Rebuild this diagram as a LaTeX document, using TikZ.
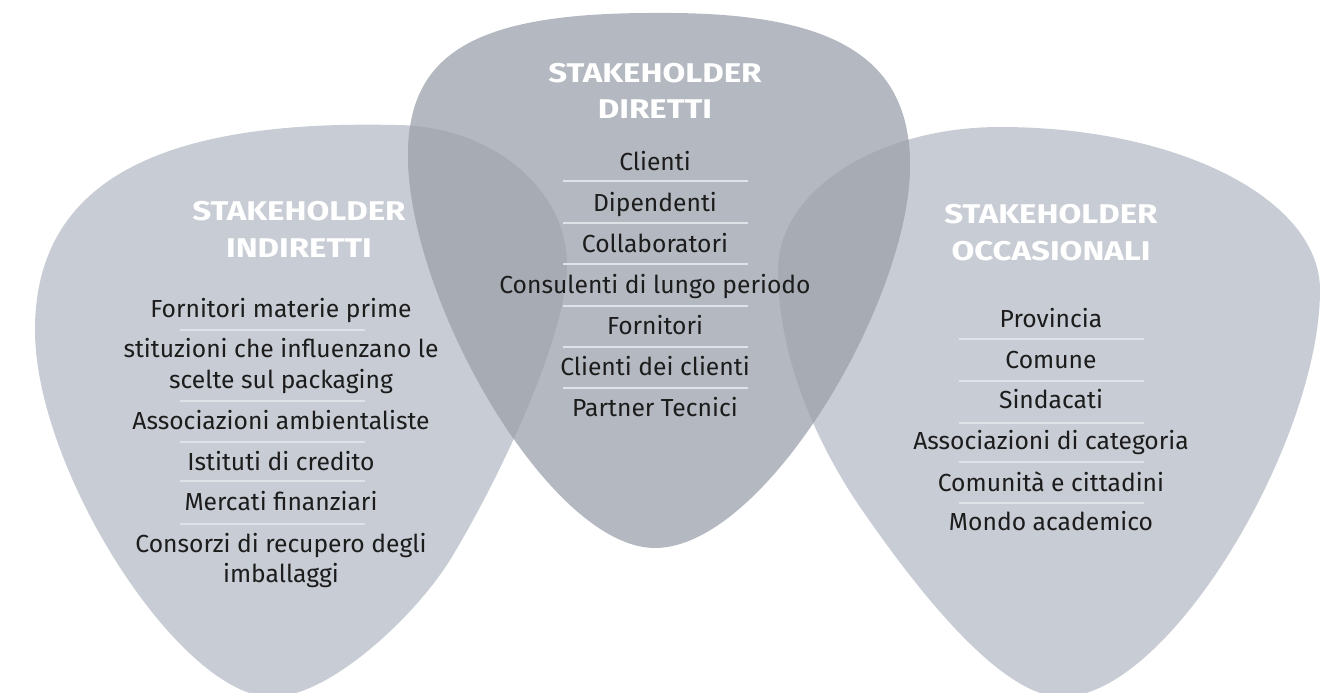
\documentclass[tikz,border=0pt]{standalone}
\usepackage{fontspec}
\setmainfont{Fira Sans}
\newfontfamily\headfont[FakeStretch=1.22]{Fira Sans}
\begin{document}
\begin{tikzpicture}[x=0.75pt,y=-0.75pt,
  item/.style={anchor=base, inner sep=0pt, text=itemText, font=\fontsize{18.5}{22}\selectfont},
  head/.style={anchor=base, inner sep=0pt, text=white, font=\headfont\bfseries\fontsize{20.3}{24}\selectfont},
  sepline/.style={draw=sepLine, line width=0.8pt}]
\definecolor{pickLight}{HTML}{C8CCD4}
\definecolor{pickMid}{HTML}{B4B9C1}
\definecolor{pickDark}{HTML}{A7ABB3}
\definecolor{sepLine}{HTML}{DFE2E7}
\definecolor{itemText}{HTML}{1C1C1C}
\useasboundingbox (0,0) rectangle (1329,693);

% outlines of the three picks
\path[save path=\leftpick]
  (567,265) .. controls (567,188) and (490,125) .. (395,125)
  .. controls (180,120) and (35,170) .. (35,330)
  .. controls (35,470) and (180,697) .. (272,697)
  .. controls (330,697) and (416,615) .. (450,560)
  .. controls (493,490) and (567,340) .. (567,265) -- cycle;
\path[save path=\midpick]
  (660,13) .. controls (480,12) and (408,50) .. (408,155)
  .. controls (408,300) and (550,548) .. (655,548)
  .. controls (765,548) and (910,300) .. (910,165)
  .. controls (910,55) and (830,12) .. (660,13) -- cycle;
\path[save path=\rightpick]
  (778,270) .. controls (778,191) and (877,127) .. (1000,127)
  .. controls (1180,127) and (1320,200) .. (1320,290)
  .. controls (1320,440) and (1170,697) .. (1062,697)
  .. controls (1000,697) and (915,587) .. (860,507)
  .. controls (819,447) and (778,360) .. (778,270) -- cycle;

\fill[pickLight, use path=\leftpick];
\fill[pickLight, use path=\rightpick];
\fill[pickMid, use path=\midpick];
\begin{scope}
  \clip[use path=\midpick];
  \fill[pickDark, use path=\leftpick];
  \fill[pickDark, use path=\rightpick];
\end{scope}

% left pick: indirect stakeholders
\node[head] (lh1) at (299,220) {STAKEHOLDER};
\node[head] (lh2) at (299,257) {INDIRETTI};
\node[item] (l1) at (281,317) {Fornitori materie prime};
\node[item] (l2a) at (281,357) {stituzioni che influenzano le};
\node[item] (l2b) at (281,388) {scelte sul packaging};
\node[item] (l3) at (281,429) {Associazioni ambientaliste};
\node[item] (l4) at (281,470) {Istituti di credito};
\node[item] (l5) at (281,510) {Mercati finanziari};
\node[item] (l6a) at (281,552) {Consorzi di recupero degli};
\node[item] (l6b) at (281,582) {imballaggi};
\foreach \y in {330,401,442,481,524} \draw[sepline] (180,\y) -- (365,\y);

% middle pick: direct stakeholders
\node[head] (mh1) at (655,82) {STAKEHOLDER};
\node[head] (mh2) at (655,118) {DIRETTI};
\node[item] (m1) at (655,170) {Clienti};
\node[item] (m2) at (655,211) {Dipendenti};
\node[item] (m3) at (655,252) {Collaboratori};
\node[item] (m4) at (655,293) {Consulenti di lungo periodo};
\node[item] (m5) at (655,334) {Fornitori};
\node[item] (m6) at (655,375) {Clienti dei clienti};
\node[item] (m7) at (655,416) {Partner Tecnici};
\foreach \y in {181,223,264,306,347,388} \draw[sepline] (563,\y) -- (748,\y);

% right pick: occasional stakeholders
\node[head] (rh1) at (1051,223) {STAKEHOLDER};
\node[head] (rh2) at (1051,260) {OCCASIONALI};
\node[item] (r1) at (1051,327) {Provincia};
\node[item] (r2) at (1051,368) {Comune};
\node[item] (r3) at (1051,408) {Sindacati};
\node[item] (r4) at (1051,449) {Associazioni di categoria};
\node[item] (r5) at (1051,491) {Comunità e cittadini};
\node[item] (r6) at (1051,530) {Mondo academico};
\foreach \y in {339,381,423,462,503} \draw[sepline] (959,\y) -- (1144,\y);
\end{tikzpicture}
\end{document}
